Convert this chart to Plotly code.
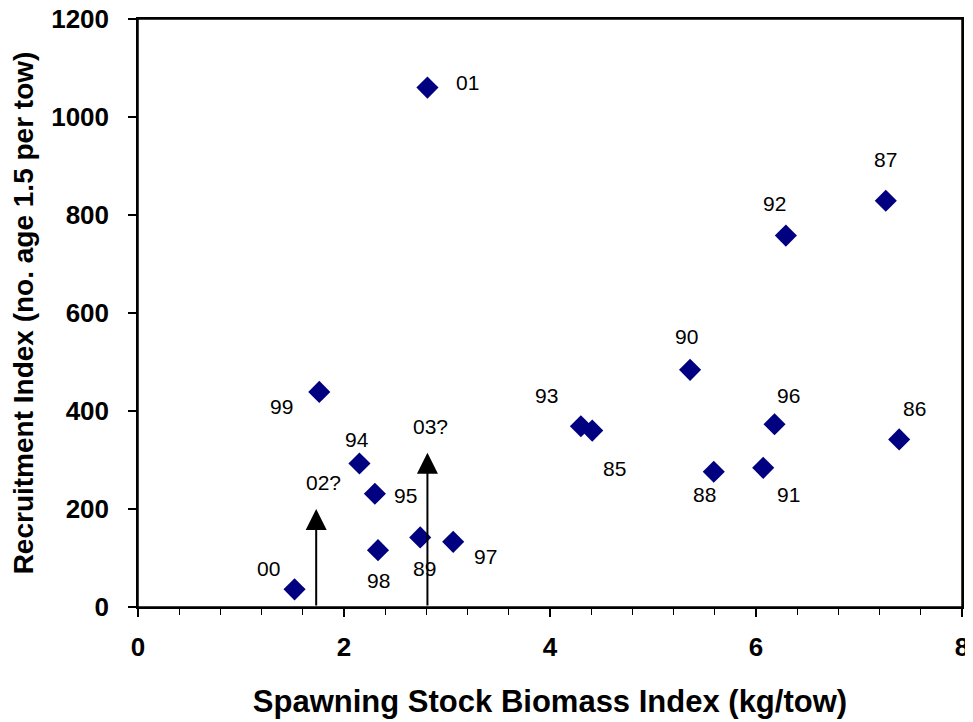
import plotly.graph_objects as go

# Data
year_labels = ["85", "86", "87", "88", "89", "90", "91", "92", "93",
               "94", "95", "96", "97", "98", "99", "00", "01"]
ssb_index = [4.41, 7.39, 7.26, 5.59, 2.74, 5.36, 6.07, 6.29, 4.30,
             2.15, 2.30, 6.18, 3.06, 2.33, 1.76, 1.52, 2.81]
recruit_index = [360, 342, 829, 276, 142, 484, 284, 758, 369,
                 293, 231, 373, 133, 116, 439, 36, 1060]

# Projected years shown as arrows
proj_labels = ["02?", "03?"]
proj_ssb = [1.73, 2.81]
proj_recruit = [200, 315]

x_ticks = [0, 2, 4, 6, 8]
y_ticks = [0, 200, 400, 600, 800, 1000, 1200]

# Label offsets in pixels (style only)
label_offsets = {
    "85": (22, -38), "86": (15, 31), "87": (0, 41), "88": (-9, -23),
    "89": (4, -31), "90": (-4, 33), "91": (25, -27), "92": (-11, 32),
    "93": (-34, 31), "94": (-2, 24), "95": (31, -2), "96": (14, 29),
    "97": (32, -15), "98": (1, -30), "99": (-38, -15), "00": (-26, 21),
    "01": (40, 5),
}
proj_offsets = {"02?": (7, 27), "03?": (3, 26)}

FONT = "Arial, 'Liberation Sans', sans-serif"

fig = go.Figure()
fig.add_trace(go.Scatter(
    x=ssb_index, y=recruit_index, mode="markers",
    marker=dict(symbol="diamond", size=17, color="#000080",
                line=dict(width=0)),
    showlegend=False, cliponaxis=False,
))

annotations = []
for lab, xv, yv in zip(year_labels, ssb_index, recruit_index):
    dx, dy = label_offsets[lab]
    annotations.append(dict(
        x=xv, y=yv, xref="x", yref="y", text=lab, showarrow=False,
        xshift=dx, yshift=dy,
        font=dict(family=FONT, size=21, color="black"),
    ))

for lab, xv, yv in zip(proj_labels, proj_ssb, proj_recruit):
    annotations.append(dict(
        x=xv, y=yv, xref="x", yref="y", ax=xv, ay=0,
        axref="x", ayref="y", text="", showarrow=True,
        arrowhead=2, arrowsize=2.1, arrowwidth=2, arrowcolor="black",
        standoff=0, startstandoff=0,
    ))
    dx, dy = proj_offsets[lab]
    annotations.append(dict(
        x=xv, y=yv, xref="x", yref="y", text=lab, showarrow=False,
        xshift=dx, yshift=dy,
        font=dict(family=FONT, size=21, color="black"),
    ))

# The page body adds an 8px offset, so the figure is sized to fit the window
fig.update_layout(
    width=965, height=714,
    margin=dict(l=130, r=11, t=11, b=115),
    paper_bgcolor="white", plot_bgcolor="white",
    annotations=annotations,
    font=dict(family=FONT, color="black"),
    shapes=[dict(type="rect", xref="paper", yref="paper", x0=0, x1=1, y0=0, y1=1,
                 line=dict(color="black", width=1.5), layer="above")],
)

fig.update_xaxes(
    range=[0, 8], tickvals=x_ticks, automargin=False,
    ticks="outside", ticklen=8, tickwidth=1.5, tickcolor="black",
    minor=dict(dtick=0.4, ticks="outside", ticklen=6, tickwidth=1, tickcolor="black"),
    showline=True, linecolor="black", linewidth=1.5, mirror=True,
    showgrid=False, zeroline=False, ticklabeloverflow="allow",
    tickfont=dict(family=FONT, size=26, color="black", weight="bold"),
    ticklabelstandoff=8,
    title=dict(text="<b>Spawning Stock Biomass Index (kg/tow)</b>",
               font=dict(family=FONT, size=31, color="black"), standoff=29),
)
fig.update_yaxes(
    range=[0, 1200], tickvals=y_ticks, automargin=False,
    ticks="outside", ticklen=8, tickwidth=1.5, tickcolor="black",
    showline=True, linecolor="black", linewidth=1.5, mirror=True,
    showgrid=False, zeroline=False, ticklabeloverflow="allow",
    tickfont=dict(family=FONT, size=26, color="black", weight="bold"),
    ticklabelstandoff=14,
    title=dict(text="<b>Recruitment Index (no. age 1.5 per tow)</b>",
               font=dict(family=FONT, size=28, color="black"), standoff=14),
)

fig.write_html("out.html")
